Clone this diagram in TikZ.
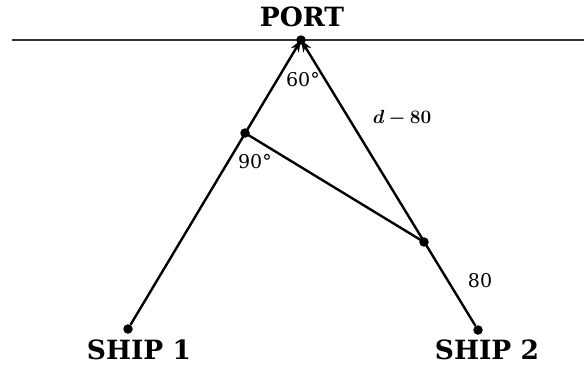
\RequirePackage{fix-cm}
\documentclass[tikz,border=0pt]{standalone}
\usepackage{bm}
\usepackage{fontspec}
\setmainfont{DejaVu Serif}
\usetikzlibrary{arrows.meta}
\tikzset{
  pt/.style={circle,fill=black,inner sep=0pt,minimum size=9.5pt},
  route/.style={line width=2.4pt,-{Stealth[length=12pt,width=9pt]}},
  seg/.style={line width=2.4pt},
  big/.style={font=\bfseries\fontsize{26.5}{30}\selectfont},
  lbl/.style={font=\fontsize{19}{22}\selectfont}
}
\begin{document}
\begin{tikzpicture}[x=1pt,y=-1pt]
\useasboundingbox (0,0) rectangle (584,365);
\coordinate (L) at (12,40);
\coordinate (R) at (584,40);
\draw[line width=2.2pt,black!80] (L) -- (R);
\node[pt] (port) at (301,40) {};
\node[pt] (s1) at (128,329) {};
\node[pt] (s2) at (478,330) {};
\node[pt] (f) at (245,133) {};
\node[pt] (g) at (424,242) {};
\draw[route] (s1) -- (port.center);
\draw[route] (s2) -- (port.center);
\draw[seg] (f.center) -- (g.center);
\node[big] (lp) at (302,17) {PORT};
\node[big] (l1) at (139,350) {SHIP 1};
\node[big] (l2) at (487,350) {SHIP 2};
\node[lbl] (a60) at (303,80) {60°};
\node[lbl] (a90) at (255,162) {90°};
\node[lbl] (d80) at (402,118) {$\bm{d-80}$};
\node[lbl] (e80) at (480,281) {80};
\end{tikzpicture}
\end{document}
